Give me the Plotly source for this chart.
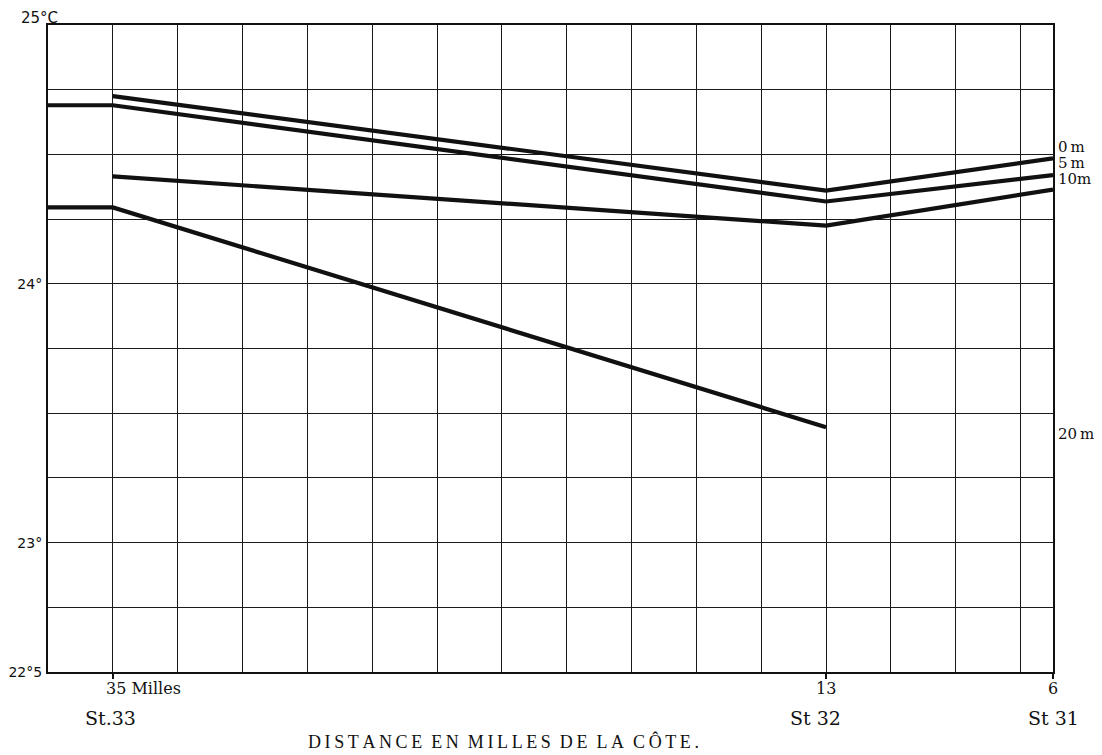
import plotly.graph_objects as go

# ---- data (distance in miles from the coast, temperature in °C) ----
x_0m = [35, 13, 6]
t_0m = [24.725, 24.36, 24.485]

x_5m = [37, 35, 13, 6]
t_5m = [24.69, 24.69, 24.318, 24.42]

x_10m = [35, 13, 6]
t_10m = [24.415, 24.225, 24.364]

x_20m = [37, 35, 13]
t_20m = [24.295, 24.295, 23.446]

depth_labels = ["0\u2009m", "5\u2009m", "10m", "20\u2009m"]
depth_label_y = [24.527, 24.466, 24.405, 23.42]

station_dist = [35, 13, 6]
dist_labels = ["35 Milles", "13", "6"]
station_labels = ["St.33", "St 32", "St 31"]

y_tickvals = [22.5, 22.75, 23.0, 23.25, 23.5, 23.75, 24.0, 24.25, 24.5, 24.75, 25.0]
y_ticktext = ["22°5", "", "23°", "", "", "", "24°", "", "", "", ""]

x_title = "DISTANCE EN MILLES DE LA CÔTE."

# page body has an 8px margin in the browser
OFF = 8
W, H = 1102 - OFF, 755 - OFF
L, R, T, B = 48 - OFF, 49, 25 - OFF, 83

fig = go.Figure()
for xs, ts in [(x_0m, t_0m), (x_5m, t_5m), (x_10m, t_10m), (x_20m, t_20m)]:
    fig.add_trace(go.Scatter(x=xs, y=ts, mode="lines",
                             line=dict(color="#111111", width=4.2),
                             showlegend=False, hoverinfo="skip"))

ph = 672 - 25

def py(pix):
    return (672 - pix) / ph

serif = "DejaVu Serif"
ann = []
# depth labels on the right
for lab, yv in zip(depth_labels, depth_label_y):
    ann.append(dict(x=1.003, xref="paper", y=yv, yref="y", text=lab,
                    showarrow=False, xanchor="left", yanchor="middle",
                    font=dict(family=serif, size=15, color="#111")))
# distance labels & station labels
shifts = {"St.33": -2, "St 32": -11, "St 31": 0}
for d, dl, sl in zip(station_dist, dist_labels, station_labels):
    is_m = dl.endswith("Milles")
    ann.append(dict(x=d, xref="x", y=py(688), yref="paper", text=dl,
                    showarrow=False, xanchor="left" if is_m else "center",
                    xshift=-9 if is_m else 0,
                    yanchor="middle", font=dict(family=serif, size=16, color="#111")))
    ann.append(dict(x=d, xref="x", y=py(718), yref="paper", text=sl,
                    showarrow=False, xanchor="center", xshift=shifts[sl],
                    yanchor="middle", font=dict(family=serif, size=19, color="#111")))
# top-left unit label
ann.append(dict(x=0, xref="paper", y=py(18), yref="paper", text="25°C",
                showarrow=False, xanchor="center", xshift=-9, yanchor="middle",
                font=dict(family="DejaVu Sans", size=15, color="#111")))
# x title (letter-spaced)
spaced = "\u00a0\u00a0".join("\u2009".join(w) for w in x_title.split(" "))
ann.append(dict(x=0.453, xref="paper", y=py(741), yref="paper",
                text=spaced,
                showarrow=False, xanchor="center", yanchor="middle",
                font=dict(family="Liberation Serif", size=18, color="#111")))

grid_col = "#1a1a1a"
fig.update_layout(
    width=W, height=H,
    margin=dict(l=L, r=R, t=T, b=B, autoexpand=False),
    paper_bgcolor="white", plot_bgcolor="white",
    annotations=ann,
    xaxis=dict(range=[37, 6], tickvals=station_dist, showgrid=True,
               gridcolor=grid_col, gridwidth=1.4, showticklabels=False,
               ticks="outside", ticklen=5, tickwidth=1.5, tickcolor="#111",
               minor=dict(tick0=37, dtick=2, showgrid=True, gridcolor=grid_col,
                          gridwidth=1.4, ticks=""),
               zeroline=False, showline=True, linecolor="#111", linewidth=2,
               mirror=True, automargin=False),
    yaxis=dict(range=[22.5, 25], tickvals=y_tickvals, ticktext=y_ticktext,
               showgrid=True, gridcolor=grid_col, gridwidth=1.4,
               zeroline=False, showline=True, linecolor="#111", linewidth=2,
               mirror=True, ticks="", ticklabelstandoff=1, automargin=False,
               tickfont=dict(family="DejaVu Sans", size=14, color="#111")),
)

fig.write_html("out.html")
